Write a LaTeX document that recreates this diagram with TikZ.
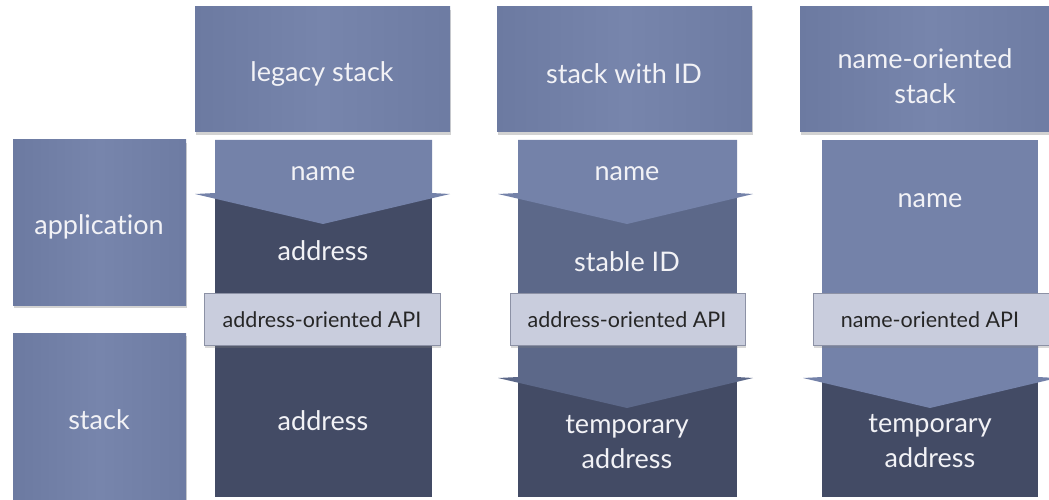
\documentclass[tikz,border=0pt]{standalone}
\usepackage{fontspec}
\setmainfont{Lato}[Ligatures={NoCommon}]
\usetikzlibrary{shadows}
\definecolor{boxA}{HTML}{6C7AA1}
\definecolor{boxB}{HTML}{7785AC}
\definecolor{lightc}{HTML}{7482A9}
\definecolor{medc}{HTML}{5C6889}
\definecolor{darkc}{HTML}{434B65}
\definecolor{apic}{HTML}{C9CDDD}
\definecolor{apiedge}{HTML}{8C91A5}
\definecolor{txtw}{HTML}{F2F2F6}
\tikzset{
  hbox/.style={left color=boxA, right color=boxA!85!boxB, middle color=boxB, draw=none,
    drop shadow={shadow xshift=1pt, shadow yshift=-3pt, opacity=0.35}},
  apibox/.style={fill=apic, draw=apiedge, line width=0.8pt,
    drop shadow={shadow xshift=1pt, shadow yshift=-3pt, opacity=0.3}},
  wtxt/.style={text=txtw, font=\fontsize{27}{35}\selectfont, align=center, inner sep=0pt},
  apitxt/.style={text=black!85, font=\fontsize{21.5}{25}\selectfont, inner sep=0pt},
}
\begin{document}
\begin{tikzpicture}[x=1pt,y=-1pt]
\useasboundingbox (0,0) rectangle (1049,500);
\clip (0,0) rectangle (1049,500);
\fill[white] (0,0) rectangle (1049,500);
% header boxes
\path[hbox] (195,7) rectangle (450,132);
\path[hbox] (497,7) rectangle (752,132);
\path[hbox] (800,7) rectangle (1060,132);
% left boxes
\path[hbox] (13,140) rectangle (186,305);
\path[hbox] (13,333) rectangle (186,510);
% column 1 (legacy)
\fill[darkc] (215,140) rectangle (432,497);
\fill[lightc] (215,140) -- (432,140) -- (432,193) -- (450,194) -- (323,224) -- (195,194) -- (215,193) -- cycle;
% column 2 (stack with ID)
\fill[medc] (518,140) rectangle (737,497);
\fill[darkc] (518,377) rectangle (737,497);
\fill[medc] (518,340) -- (737,340) -- (737,377) -- (753,378) -- (627,408) -- (498,378) -- (518,377) -- cycle;
\fill[lightc] (518,140) -- (737,140) -- (737,193) -- (753,194) -- (627,224) -- (498,194) -- (518,193) -- cycle;
% column 3 (name-oriented)
\fill[lightc] (822,140) rectangle (1038,497);
\fill[darkc] (822,377) rectangle (1038,497);
\fill[lightc] (822,340) -- (1038,340) -- (1038,377) -- (1057,378) -- (930,408) -- (803,378) -- (822,377) -- cycle;
% API boxes
\path[apibox] (204,293) rectangle (440,345);
\path[apibox] (510,293) rectangle (745,345);
\path[apibox] (813,293) rectangle (1052,345);
% texts
\node[wtxt] (h1) at (322,74) {legacy stack};
\node[wtxt] (h2) at (624,74) {stack with ID};
\node[wtxt] (h3) at (925,76) {name-oriented\\stack};
\node[wtxt] (app) at (99,227) {application};
\node[wtxt] (stk) at (99,420) {stack};
\node[wtxt] (n1) at (323,174) {name};
\node[wtxt] (a1) at (323,251) {address};
\node[apitxt] (api1) at (322,320) {address-oriented API};
\node[wtxt] (a1b) at (323,421) {address};
\node[wtxt] (n2) at (627,174) {name};
\node[wtxt] (s2) at (627,262) {stable ID};
\node[apitxt] (api2) at (627,320) {address-oriented API};
\node[wtxt] (t2) at (627,442) {temporary\\address};
\node[wtxt] (n3) at (930,201) {name};
\node[apitxt] (api3) at (930,320) {name-oriented API};
\node[wtxt] (t3) at (930,441) {temporary\\address};
\end{tikzpicture}
\end{document}
